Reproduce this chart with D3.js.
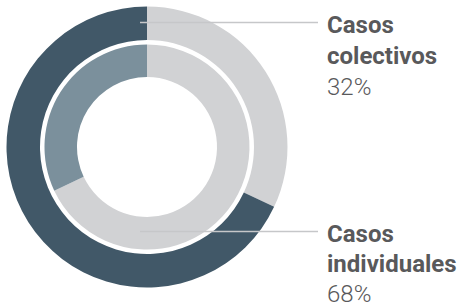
<!DOCTYPE html>
<html>
<head>
<meta charset="utf-8">
<script src="https://cdn.jsdelivr.net/npm/d3@7"></script>
<style>
  html, body { margin: 0; padding: 0; background: #fff; }
  svg { display: block; }
</style>
</head>
<body>
<script>
// data
const categories = ['Casos colectivos', 'Casos individuales'];
const labelLines = [['Casos', 'colectivos'], ['Casos', 'individuales']];
const shares = [32, 68];
// inner ring draws the same split, individual cases first
const innerOrder = ['Casos individuales', 'Casos colectivos'];

const outerColors = { 'Casos colectivos': '#d1d2d4', 'Casos individuales': '#415868' };
const innerColors = { 'Casos colectivos': '#7b909c', 'Casos individuales': '#d1d2d4' };

const width = 464, height = 307;
const cx = 147, cy = 147;

const svg = d3.select('body').append('svg')
    .attr('width', width)
    .attr('height', height);

const g = svg.append('g').attr('transform', `translate(${cx},${cy})`);

const rows = categories.map((c, i) => ({ cat: c, value: shares[i] }));

// outer ring: colectivos first, clockwise from 12 o'clock
const pie = d3.pie().sort(null).value(d => d.value);
const arcOuter = d3.arc().innerRadius(107).outerRadius(140.5);
g.selectAll('.outer')
    .data(pie(rows))
    .enter()
    .append('path')
    .attr('class', 'outer')
    .attr('d', arcOuter)
    .attr('fill', d => outerColors[d.data.cat]);

// inner ring: individuales first
const innerRows = innerOrder.map(c => rows.find(r => r.cat === c));
const arcInner = d3.arc().innerRadius(70).outerRadius(102.5);
g.selectAll('.inner')
    .data(pie(innerRows))
    .enter()
    .append('path')
    .attr('class', 'inner')
    .attr('d', arcInner)
    .attr('fill', d => innerColors[d.data.cat]);

// leader lines + labels
const labelX = 327;
const lineEnd = 318;
const labelTops = [22.5, 231.5];
const lineGap = [31, 30]; // bottom block a bit tighter so 68% stays inside
const font = 'Roboto, "DejaVu Sans", sans-serif';

labelTops.forEach((ly, i) => {
    svg.append('line')
        .attr('x1', 140).attr('x2', lineEnd)
        .attr('y1', ly).attr('y2', ly)
        .attr('stroke', '#c6c7c9')
        .attr('stroke-width', 1.6);

    const base = ly + 10.5;
    labelLines[i].forEach((t, k) => {
        svg.append('text')
            .attr('x', labelX)
            .attr('y', base + k * lineGap[i])
            .attr('font-family', font)
            .attr('font-weight', 700)
            .attr('font-size', 24)
            .attr('fill', '#59595b')
            .text(t);
    });
    svg.append('text')
        .attr('x', labelX)
        .attr('y', base + lineGap[i] * 2 - 0.5)
        .attr('font-family', font)
        .attr('font-weight', 300)
        .attr('font-size', 24)
        .attr('fill', '#59595b')
        .text(shares[i] + '%');
});
</script>
</body>
</html>
